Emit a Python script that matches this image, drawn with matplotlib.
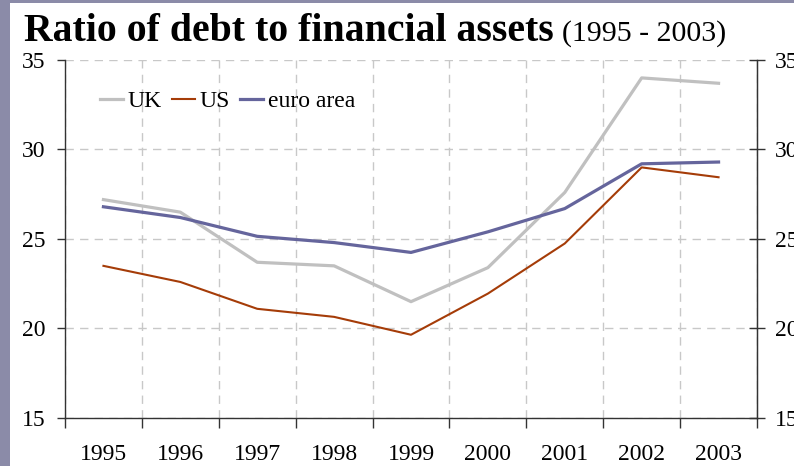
import numpy as np
import matplotlib.pyplot as plt
from matplotlib.patches import Rectangle

plt.rcParams['font.family'] = ['Liberation Serif', 'DejaVu Serif']

years = ['1995', '1996', '1997', '1998', '1999', '2000', '2001', '2002', '2003']
uk = [27.2, 26.5, 23.7, 23.5, 21.5, 23.4, 27.6, 34.0, 33.7]
us = [23.5, 22.6, 21.1, 20.65, 19.65, 21.95, 24.75, 29.0, 28.45]
euro = [26.8, 26.2, 25.15, 24.8, 24.25, 25.4, 26.7, 29.2, 29.3]

fig = plt.figure(figsize=(7.94, 4.66), dpi=100)
fig.patch.set_facecolor('#8b8ba8')
# white panel inside the slate border
fig.patches.append(Rectangle((10 / 794, 0), 1, 1 - 3 / 466, transform=fig.transFigure,
                             facecolor='white', edgecolor='none', zorder=-10))

ax = fig.add_axes([65 / 794, 48 / 466, 692 / 794, 358 / 466])
ax.set_facecolor('white')
x = np.arange(len(years))

ax.plot(x, uk, color='#c0c0c0', lw=2.3, label='UK', zorder=3)
ax.plot(x, us, color='#a53c08', lw=1.5, label='US', zorder=4)
ax.plot(x, euro, color='#65659c', lw=2.3, label='euro area', zorder=5)

ax.set_xlim(-0.5, len(years) - 0.5)
ax.set_ylim(15, 35)
ax.set_yticks([15, 20, 25, 30, 35])

# ticks and grid on category boundaries, labels at centres
ax.set_xticks(np.arange(len(years) + 1) - 0.5)
ax.set_xticklabels([])
ax.set_xticks(x, minor=True)
ax.set_xticklabels(years, minor=True)
ax.tick_params(axis='x', which='major', direction='out', length=7, width=1, color='#333333')
ax.tick_params(axis='x', which='minor', length=0, pad=19, labelsize=17)
ax.tick_params(axis='y', direction='out', length=5.5, width=1, color='#333333',
               pad=8.5, labelsize=17)

ax.grid(True, which='major', color='#c8c8c8', lw=1, linestyle=(0, (6, 4.5)))
ax.set_axisbelow(True)

for s in ['left', 'bottom', 'right']:
    ax.spines[s].set_color('#333333')
    ax.spines[s].set_linewidth(1)
ax.spines['top'].set_visible(False)

# right-hand scale, same range
ax2 = ax.twinx()
ax2.set_ylim(15, 35)
ax2.set_yticks([15, 20, 25, 30, 35])
ax2.tick_params(axis='y', direction='inout', length=11, width=1, color='#333333',
                pad=7.5, labelsize=17)
for s in ['left', 'bottom', 'top']:
    ax2.spines[s].set_visible(False)
ax2.spines['right'].set_color('#333333')

ax.legend(loc='center left', bbox_to_anchor=(0.05, 0.885), ncol=3, frameon=False,
          fontsize=17, handlelength=1.0, handletextpad=0.2, columnspacing=0.4,
          borderaxespad=0, borderpad=0)

fig.text(24 / 794, 1 - 41 / 466, 'Ratio of debt to financial assets', fontsize=28.6,
         fontweight='bold', va='baseline', ha='left')
fig.text(562 / 794, 1 - 41 / 466, '(1995 - 2003)', fontsize=21.5, va='baseline', ha='left')

fig.savefig('out.png', dpi=100, facecolor=fig.get_facecolor())
